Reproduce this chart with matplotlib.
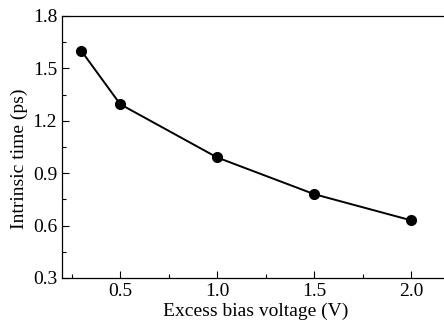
import matplotlib
matplotlib.use('Agg')
import matplotlib.pyplot as plt
from matplotlib.ticker import MultipleLocator

plt.rcParams['font.family'] = ['Liberation Serif', 'DejaVu Serif']

bias_voltage = [0.3, 0.5, 1.0, 1.5, 2.0]
intrinsic_time = [1.60, 1.295, 0.99, 0.78, 0.63]

fig = plt.figure(figsize=(4.44, 3.25), dpi=100)
# axes runs a bit past the right edge, like the original crop
ax = fig.add_axes([62 / 444, 1 - 278 / 325, 388 / 444, (278 - 16) / 325])

ax.plot(bias_voltage, intrinsic_time, color='black', linewidth=1.4,
        marker='o', markersize=7)

ax.set_xlim(0.2, 2.2)
ax.set_ylim(0.3, 1.8)
ax.xaxis.set_major_locator(MultipleLocator(0.5))
ax.xaxis.set_minor_locator(MultipleLocator(0.25))
ax.yaxis.set_major_locator(MultipleLocator(0.3))
ax.yaxis.set_minor_locator(MultipleLocator(0.15))
ax.tick_params(which='both', direction='in', labelsize=14, width=0.8)
ax.tick_params(which='major', length=5)
ax.tick_params(which='minor', length=3)
for s in ax.spines.values():
    s.set_linewidth(0.9)

ax.set_xlabel('Excess bias voltage (V)', fontsize=14, labelpad=2)
ax.set_ylabel('Intrinsic time (ps)', fontsize=14)
ax.yaxis.set_label_coords(-0.088, 0.456)

fig.savefig('out.png', dpi=100)
